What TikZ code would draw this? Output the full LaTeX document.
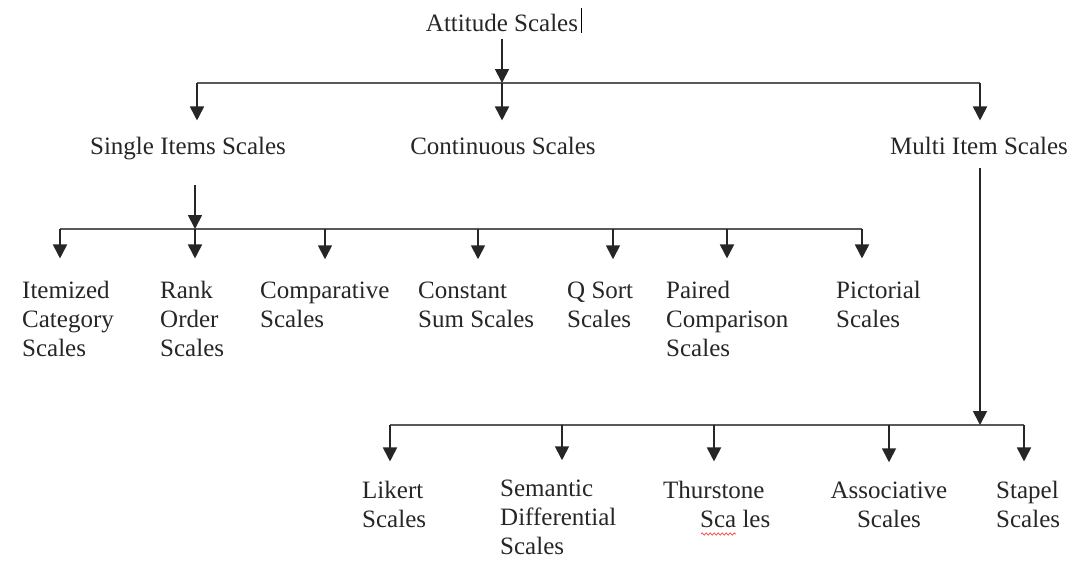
\documentclass[tikz,border=0pt]{standalone}
\usepackage{fontspec}
\setmainfont{Liberation Serif}
\usetikzlibrary{arrows.meta,decorations.pathmorphing}
\begin{document}
\begin{tikzpicture}[x=1pt,y=-1pt,
  lbl/.style={inner sep=0pt, text=black!85, font=\fontsize{25}{29}\selectfont},
  ll/.style={lbl, align=left, anchor=base west},
  cl/.style={lbl, align=center, anchor=base},
  arr/.style={draw=black!85, line width=1.8pt, -{Triangle[width=14pt,length=14pt]}},
  hbar/.style={draw=black!65, line width=1.4pt}]
\useasboundingbox (0,0) rectangle (1076,560);

% nodes (anchor = baseline of the last line)
\node[cl] (title) at (502,31) {Attitude Scales};
\draw[black, line width=1.2pt] (title.east) ++(3,-14) -- ++(0,25);
\node[cl] (single) at (188,154) {Single Items Scales};
\node[cl] (cont) at (503,154) {Continuous Scales};
\node[cl] (multi) at (979,154) {Multi Item Scales};

\node[ll] (item) at (22,356) {Itemized\\Category\\Scales};
\node[ll] (rank) at (160,356) {Rank\\Order\\Scales};
\node[ll] (comp) at (260,327) {Comparative\\Scales};
\node[ll] (const) at (418,327) {Constant\\Sum Scales};
\node[ll] (qsort) at (567,327) {Q Sort\\Scales};
\node[ll] (paired) at (666,356) {Paired\\Comparison\\Scales};
\node[ll] (pict) at (836,327) {Pictorial\\Scales};

\node[ll] (likert) at (362,527) {Likert\\Scales};
\node[ll] (sem) at (500,554) {Semantic\\Differential\\Scales};
\node[ll] (thur) at (663,527) {Thurstone\\\hspace*{37pt}Sca les};
\node[cl] (assoc) at (889,527) {Associative\\Scales};
\node[ll] (stapel) at (996,527) {Stapel\\Scales};
\draw[red!75, line width=0.7pt, decorate, decoration={snake, amplitude=1.1pt, segment length=4pt}] (701,534) -- (736,534);

% level 1
\coordinate (b1l) at (197,83);
\coordinate (b1c) at (502,83);
\coordinate (b1r) at (980,83);
\draw[hbar] (b1l) -- (b1r);
\draw[arr, shorten <=8pt] (title.south) -- (b1c);
\draw[arr, shorten >=16pt] (b1l) -- (b1l |- single.north);
\draw[arr, shorten >=16pt] (b1c) -- (b1c |- cont.north);
\draw[arr, shorten >=16pt] (b1r) -- (b1r |- multi.north);

% level 2 (single items)
\coordinate (b2s) at (195,185);
\coordinate (a1) at (60,229);
\coordinate (a2) at (195,229);
\coordinate (a3) at (325,229);
\coordinate (a4) at (478,229);
\coordinate (a5) at (613,229);
\coordinate (a6) at (727,229);
\coordinate (a7) at (862,229);
\draw[hbar] (a1) -- (a7);
\draw[arr] (b2s) -- (a2);
\draw[arr, shorten >=22pt] (a1) -- (a1 |- item.north);
\draw[arr, shorten >=22pt] (a2) -- (a2 |- rank.north);
\draw[arr, shorten >=22pt] (a3) -- (a3 |- comp.north);
\draw[arr, shorten >=22pt] (a4) -- (a4 |- const.north);
\draw[arr, shorten >=22pt] (a5) -- (a5 |- qsort.north);
\draw[arr, shorten >=22pt] (a6) -- (a6 |- paired.north);
\draw[arr, shorten >=22pt] (a7) -- (a7 |- pict.north);

% level 2 (multi item)
\coordinate (m0) at (980,168);
\coordinate (c1) at (390,425);
\coordinate (c2) at (562,425);
\coordinate (c3) at (714,425);
\coordinate (c4) at (889,425);
\coordinate (cm) at (980,425);
\coordinate (c5) at (1024,425);
\draw[hbar] (c1) -- (c5);
\draw[arr] (m0) -- (cm);
\draw[arr, shorten >=19pt] (c1) -- (c1 |- likert.north);
\draw[arr, shorten >=19pt] (c2) -- (c2 |- sem.north);
\draw[arr, shorten >=19pt] (c3) -- (c3 |- thur.north);
\draw[arr, shorten >=19pt] (c4) -- (c4 |- assoc.north);
\draw[arr, shorten >=19pt] (c5) -- (c5 |- stapel.north);
\end{tikzpicture}
\end{document}
